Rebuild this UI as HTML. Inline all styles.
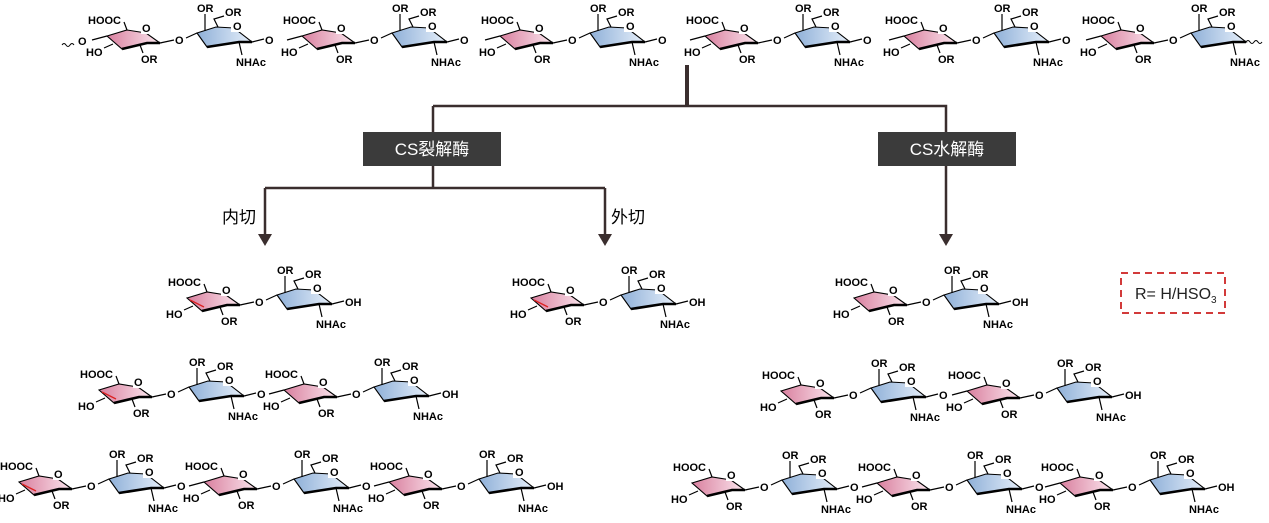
<!DOCTYPE html>
<html><head><meta charset="utf-8"><style>
html,body{margin:0;padding:0;background:#fff;}
svg text{font-family:"Liberation Sans",Arial,sans-serif;font-weight:bold;font-size:11px;fill:#000;}
svg text.cn{font-family:"Liberation Sans","Noto Sans CJK SC",sans-serif;font-weight:normal;font-size:17px;}
</style></head><body>
<svg id="s" width="1269" height="518" viewBox="0 0 1269 518" xmlns="http://www.w3.org/2000/svg">
<defs>
<linearGradient id="pk" x1="0" x2="1" y1="0" y2="0"><stop offset="0" stop-color="#d9809f"/><stop offset="1" stop-color="#fbe6ee"/></linearGradient>
<linearGradient id="bl" x1="0" x2="1" y1="0" y2="0"><stop offset="0" stop-color="#8fb0d8"/><stop offset="1" stop-color="#e6effa"/></linearGradient>
</defs>
<g stroke="#3a2e2e" stroke-width="2.5" fill="none">
<path d="M687 65V106" stroke-width="4"/>
<path d="M433 106H946V132M433 106V132"/>
<path d="M433 166V188M265 188H605M265 188V238M605 188V238M946 166V238"/>
</g>
<g fill="#3a2e2e">
<path d="M258 234h14l-7 12z"/><path d="M598 234h14l-7 12z"/><path d="M939 234h14l-7 12z"/>
</g>
<rect x="363" y="132" width="138" height="34" fill="#3b3b3b"/>
<rect x="878" y="132" width="138" height="34" fill="#3b3b3b"/>
<text class="cn" x="432" y="155" text-anchor="middle" style="fill:#fff">CS裂解酶</text>
<text class="cn" x="947" y="155" text-anchor="middle" style="fill:#fff">CS水解酶</text>
<text class="cn" x="222" y="223">内切</text>
<text class="cn" x="611" y="223">外切</text>
<rect x="1121" y="273" width="104" height="40" fill="none" stroke="#d23a3a" stroke-width="2" stroke-dasharray="7,5"/>
<text x="1135" y="299" style="font-weight:normal;font-size:16px;fill:#222">R= H/HSO<tspan dy="4" style="font-size:10px">3</tspan></text>
<g id="mol"></g>
</svg>
<script>
var out='';
function unit(dx,dy,o){
 var s='<g transform="translate('+dx+','+dy+')">';
 s+='<polygon points="107,36 127,30 146,33 160,43 147,43 122,49" fill="url(#pk)" stroke="#000" stroke-width="1.1"/>';
 s+='<path d="M122,49 L147,43 L160,43" stroke="#000" stroke-width="2.6" fill="none"/>';
 if(o.unsat) s+='<line x1="110" y1="38" x2="124" y2="45" stroke="#d22" stroke-width="1.3"/>';
 s+='<rect x="141" y="22" width="12" height="12" fill="#fff"/><text x="142" y="32">O</text>';
 s+='<path d="M127,30 L124,22 M113,44 L104,48 M140,45 L143,53" stroke="#000" stroke-width="1.2" fill="none"/>';
 s+='<text x="88" y="24">HOOC</text><text x="86" y="56">HO</text><text x="141" y="63">OR</text>';
 s+='<path d="M160,43 L174,40 M186,38 L197,33" stroke="#000" stroke-width="1.2" fill="none"/><text x="175" y="44">O</text>';
 s+='<polygon points="197,33 216,27 234,28 252,42 239,42 207,47" fill="url(#bl)" stroke="#000" stroke-width="1.1"/>';
 s+='<path d="M207,47 L239,42 L252,42" stroke="#000" stroke-width="2.6" fill="none"/>';
 s+='<rect x="231" y="20" width="12" height="12" fill="#fff"/><text x="233" y="30">O</text>';
 s+='<path d="M205,31 L205,14 M218,27 L214,19 L224,16 M239,42 L242,55" stroke="#000" stroke-width="1.2" fill="none"/>';
 s+='<text x="197" y="12">OR</text><text x="225" y="16">OR</text><text x="236" y="66">NHAc</text>';
 if(o.left=='wavy') s+='<path d="M92,40 L107,36" stroke="#000" stroke-width="1.2"/><text x="78" y="45">O</text><path d="M62,45 q2,-3 4,0 q2,3 4,0 q2,-3 4,0" stroke="#000" fill="none" stroke-width="1"/>';
 if(o.left=='O') s+='<path d="M92,40 L107,36" stroke="#000" stroke-width="1.2"/>';
 if(o.right=='O') s+='<path d="M252,42 L264,39" stroke="#000" stroke-width="1.2"/><text x="265" y="44">O</text>';
 if(o.right=='OH') s+='<path d="M252,42 L264,39" stroke="#000" stroke-width="1.2"/><text x="265" y="44">OH</text>';
 if(o.right=='wavy') s+='<path d="M252,42 q2,-3 4,0 q2,3 4,0 q2,-3 4,0 q2,3 4,0" stroke="#000" fill="none" stroke-width="1"/>';
 s+='</g>';out+=s;
}
var tops=[0,195,393,598,797,994];
tops.forEach(function(d,i){unit(d,0,{left:i==0?'wavy':'O',right:i==5?'wavy':'O'});});
function chain(xs,dy,unsat){xs.forEach(function(d,i){unit(d,dy,{unsat:unsat&&i==0,left:i==0?'HO':'O',right:i==xs.length-1?'OH':'O'});});}
chain([80],262,true);
chain([424],262,true);
chain([747],262,false);
chain([-8,177],354,true);
chain([674,860],355,false);
chain([-88,97,282],446,true);
chain([585,770,953],447,false);
document.getElementById('mol').innerHTML=out;
</script>
</body></html>
